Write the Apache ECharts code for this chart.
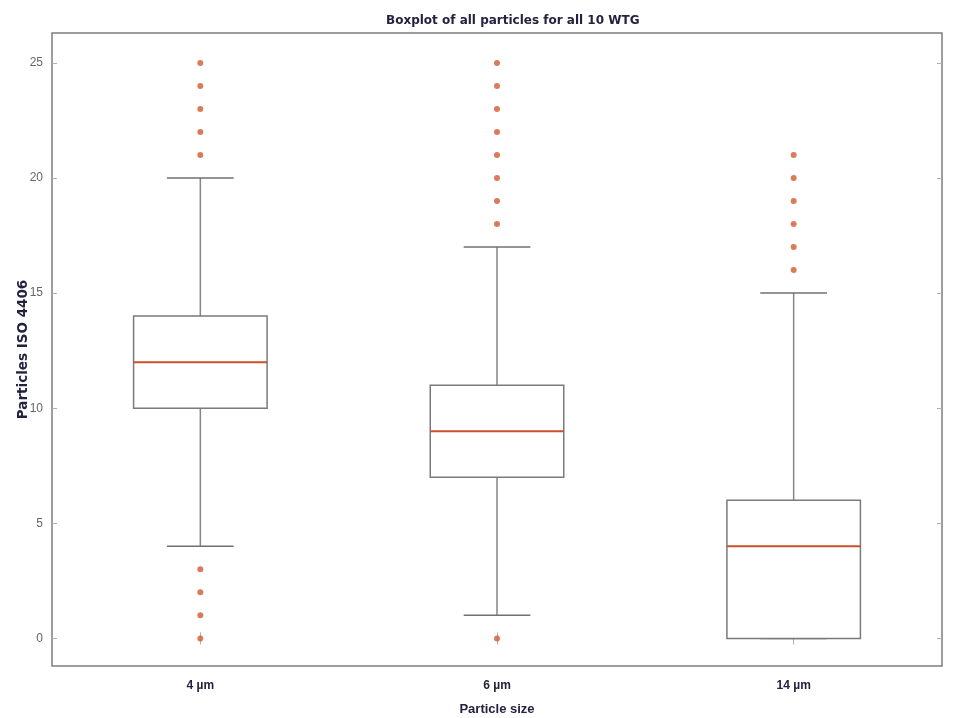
<!DOCTYPE html>
<html>
<head>
<meta charset="utf-8">
<script src="https://cdn.jsdelivr.net/npm/echarts@6/dist/echarts.min.js"></script>
<style>
  html, body { margin: 0; padding: 0; background: #ffffff; }
  #chart { width: 955px; height: 718px; }
</style>
</head>
<body>
<div id="chart"></div>
<script>
// Particle counts (ISO 4406 code) per particle size
const categories = ['4 µm', '6 µm', '14 µm'];
const whiskerLow = [4, 1, 0];
const q1 = [10, 7, 0];
const median = [12, 9, 4];
const q3 = [14, 11, 6];
const whiskerHigh = [20, 17, 15];
const outliers = [
  [21, 22, 23, 24, 25, 0, 1, 2, 3],
  [18, 19, 20, 21, 22, 23, 24, 25, 0],
  [16, 17, 18, 19, 20, 21]
];
const yTicks = [0, 5, 10, 15, 20, 25];

const boxData = categories.map((c, i) => [i, whiskerLow[i], q1[i], median[i], q3[i], whiskerHigh[i]]);
const outlierData = [];
outliers.forEach((vals, i) => vals.forEach(v => outlierData.push([i, v])));

const font = "'Liberation Sans', Arial, sans-serif";
const wideFont = "'DejaVu Sans', 'Liberation Sans', sans-serif";
const Y_MIN = -1.2, Y_MAX = 26.3;

// Box, whiskers with half-width caps, and median line
function renderBox(params, api) {
  const x = api.value(0);
  const pLow = api.coord([x, api.value(1)]);
  const pQ1 = api.coord([x, api.value(2)]);
  const pMed = api.coord([x, api.value(3)]);
  const pQ3 = api.coord([x, api.value(4)]);
  const pHigh = api.coord([x, api.value(5)]);
  const band = api.size([1, 0])[0];
  const bw = band * 0.45;
  const cw = bw * 0.5;
  const cx = pMed[0];
  const grey = '#858585';
  return {
    type: 'group',
    children: [
      { type: 'line', shape: { x1: cx, y1: pQ3[1], x2: cx, y2: pHigh[1] }, style: { stroke: grey, lineWidth: 1.5 } },
      { type: 'line', shape: { x1: cx, y1: pQ1[1], x2: cx, y2: pLow[1] }, style: { stroke: grey, lineWidth: 1.5 } },
      { type: 'line', shape: { x1: cx - cw / 2, y1: pHigh[1], x2: cx + cw / 2, y2: pHigh[1] }, style: { stroke: '#707070', lineWidth: 1.5 } },
      { type: 'line', shape: { x1: cx - cw / 2, y1: pLow[1], x2: cx + cw / 2, y2: pLow[1] }, style: { stroke: '#707070', lineWidth: 1.5 } },
      { type: 'rect', shape: { x: cx - bw / 2, y: pQ3[1], width: bw, height: pQ1[1] - pQ3[1] }, style: { fill: '#ffffff', stroke: '#7a7a7a', lineWidth: 1.5 } },
      { type: 'line', shape: { x1: cx - bw / 2, y1: pMed[1], x2: cx + bw / 2, y2: pMed[1] }, style: { stroke: '#c9502a', lineWidth: 2 } }
    ]
  };
}

const tickStyle = { color: '#b0b0b0' };

const chart = echarts.init(document.getElementById('chart'));
chart.setOption({
  backgroundColor: '#ffffff',
  animation: false,
  title: {
    text: 'Boxplot of all particles for all 10 WTG',
    left: 381,
    top: 10,
    textStyle: { fontFamily: wideFont, fontSize: 12, fontWeight: 'bold', color: '#23233f' }
  },
  grid: {
    left: 52, right: 13, top: 33, bottom: 52,
    outerBoundsMode: 'none',
    show: true, borderColor: '#7d7d7d', borderWidth: 1.5, backgroundColor: '#ffffff'
  },
  xAxis: [
    {
      type: 'category',
      data: categories,
      name: 'Particle size',
      nameLocation: 'middle',
      nameGap: 37,
      nameMoveOverlap: false,
      nameTextStyle: { fontFamily: font, fontSize: 13, fontWeight: 'bold', color: '#23233f' },
      axisLine: { show: false },
      axisTick: { show: true, inside: true, alignWithLabel: true, length: 6, lineStyle: tickStyle },
      axisLabel: { margin: 14, fontFamily: font, fontSize: 12, fontWeight: 'bold', color: '#23233f' },
      splitLine: { show: false }
    },
    {
      type: 'category',
      data: categories,
      position: 'top',
      axisLine: { show: false },
      axisTick: { show: true, inside: true, alignWithLabel: true, length: 6, lineStyle: tickStyle },
      axisLabel: { show: false },
      splitLine: { show: false }
    }
  ],
  yAxis: [
    {
      type: 'value',
      min: Y_MIN,
      max: Y_MAX,
      name: 'Particles ISO 4406',
      nameLocation: 'middle',
      nameGap: 22,
      nameMoveOverlap: false,
      nameRotate: 90,
      nameTextStyle: { fontFamily: wideFont, fontSize: 13.5, fontWeight: 'bold', color: '#23233f' },
      axisLine: { show: false },
      axisTick: { show: true, inside: true, length: 5, customValues: yTicks, lineStyle: tickStyle },
      axisLabel: { customValues: yTicks, margin: 9, fontFamily: font, fontSize: 12, color: '#666666' },
      splitLine: { show: false }
    },
    {
      type: 'value',
      min: Y_MIN,
      max: Y_MAX,
      position: 'right',
      axisLine: { show: false },
      axisTick: { show: true, inside: true, length: 5, customValues: yTicks, lineStyle: tickStyle },
      axisLabel: { show: false, customValues: yTicks },
      splitLine: { show: false }
    }
  ],
  series: [
    {
      type: 'custom',
      renderItem: renderBox,
      data: boxData,
      encode: { x: 0, y: [1, 2, 3, 4, 5] },
      z: 2
    },
    {
      type: 'scatter',
      data: outlierData,
      symbol: 'circle',
      symbolSize: 6,
      itemStyle: { color: '#d4643e', opacity: 0.85 },
      z: 3
    }
  ]
});
</script>
</body>
</html>
